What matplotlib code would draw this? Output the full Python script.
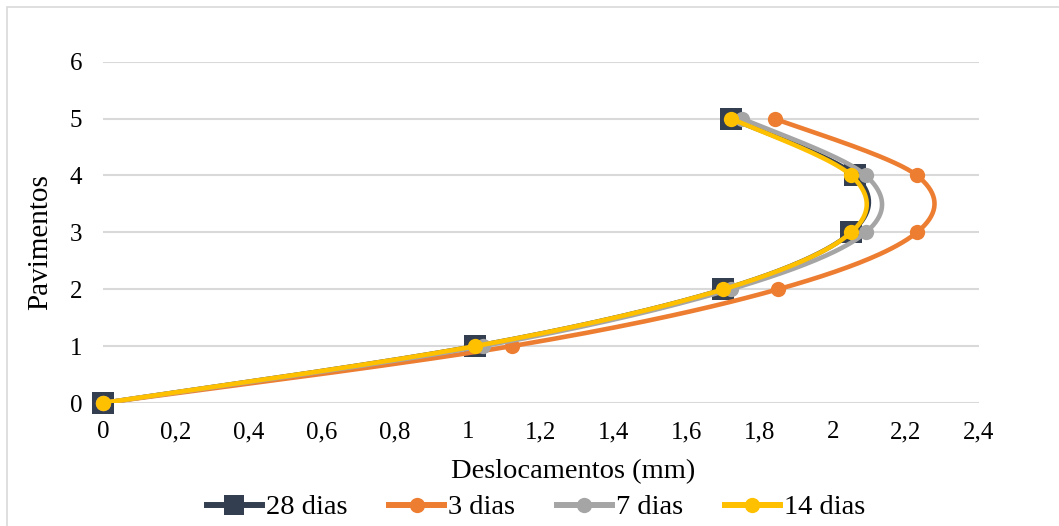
import numpy as np
import matplotlib
matplotlib.use("Agg")
import matplotlib.pyplot as plt
from matplotlib.patches import Rectangle
from matplotlib.lines import Line2D

# floors and lateral displacement (mm) per concrete age
pavimentos = [0, 1, 2, 3, 4, 5]
desl_28 = [0, 1.02, 1.70, 2.05, 2.06, 1.72]
desl_3 = [0, 1.12, 1.85, 2.23, 2.23, 1.84]
desl_7 = [0, 1.04, 1.72, 2.09, 2.09, 1.75]
desl_14 = [0, 1.02, 1.70, 2.05, 2.05, 1.72]
series_names = ["28 dias", "3 dias", "7 dias", "14 dias"]

colors = ["#333F50", "#ED7D31", "#A5A5A5", "#FFC000"]

W, H = 1059, 526


def smooth(xs, ys, n=40):
    # bezier smoothing through the points, control points at 1/6 of neighbour span
    P = np.column_stack([xs, ys]).astype(float)
    Pext = np.vstack([P[0], P, P[-1]])
    out = []
    t = np.linspace(0, 1, n)[:, None]
    for i in range(len(P) - 1):
        p0, p1, p2, p3 = Pext[i], Pext[i + 1], Pext[i + 2], Pext[i + 3]
        c1 = p1 + (p2 - p0) / 6
        c2 = p2 - (p3 - p1) / 6
        seg = ((1 - t) ** 3) * p1 + 3 * ((1 - t) ** 2) * t * c1 + 3 * (1 - t) * t ** 2 * c2 + t ** 3 * p2
        out.append(seg if i == 0 else seg[1:])
    out = np.vstack(out)
    return out[:, 0], out[:, 1]


plt.rcParams['font.family'] = ['Liberation Serif', 'DejaVu Serif']

fig = plt.figure(figsize=(W / 100, H / 100), dpi=100)
fig.patches.append(Rectangle((7 / W, -0.1), 1.2, 1.1 - 7 / H, transform=fig.transFigure,
                             fill=False, edgecolor="#D9D9D9", linewidth=1.2))
ax = fig.add_axes([103 / W, 1 - 403 / H, (979 - 103) / W, (403 - 61.7) / H])

all_data = [desl_28, desl_3, desl_7, desl_14]
handles = []
lw = 3.3
for k, (d, c, name) in enumerate(zip(all_data, colors, series_names)):
    sx, sy = smooth(d, pavimentos)
    ax.plot(sx, sy, color=c, linewidth=lw, zorder=3 + k, solid_capstyle="round")
    if k == 0:
        mk, ms, lms = "s", 16, 14.5
    else:
        mk, ms, lms = "o", 11, 11
    ax.plot(d, pavimentos, linestyle="none", marker=mk, markersize=ms, color=c,
            markeredgewidth=0, zorder=3 + k, clip_on=False)
    handles.append(Line2D([], [], color=c, linewidth=4.3, marker=mk,
                          markersize=lms, markeredgewidth=0))

ax.set_xlim(0, 2.4)
ax.set_ylim(0, 6)
ax.set_xticks(np.arange(0, 2.41, 0.2))
ax.set_yticks(range(0, 7))
ax.xaxis.set_major_formatter(plt.FuncFormatter(lambda v, p: ("%g" % round(v, 1)).replace(".", ",")))
ax.grid(axis="y", color="#D9D9D9", linewidth=1.5)
ax.set_axisbelow(True)
for s in ax.spines.values():
    s.set_visible(False)
ax.tick_params(length=0, labelsize=18, colors="black")
ax.tick_params(axis="x", pad=13)
ax.tick_params(axis="y", pad=15)

# axis titles
fig.text(573.5 / W, 1 - 478 / H, "Deslocamentos (mm)", fontsize=20.5, ha="center", va="baseline")
fig.text(40 / W, 1 - 242.5 / H, "Pavimentos", fontsize=21, rotation=90, ha="center", va="center")

fig.legend(handles, series_names, loc="center", bbox_to_anchor=(536 / W, 1 - 507.5 / H), ncol=4,
           frameon=False, fontsize=20.5, handlelength=1.95, handletextpad=0.14,
           columnspacing=1.45, borderpad=0, borderaxespad=0)

fig.savefig("out.png", dpi=100)
